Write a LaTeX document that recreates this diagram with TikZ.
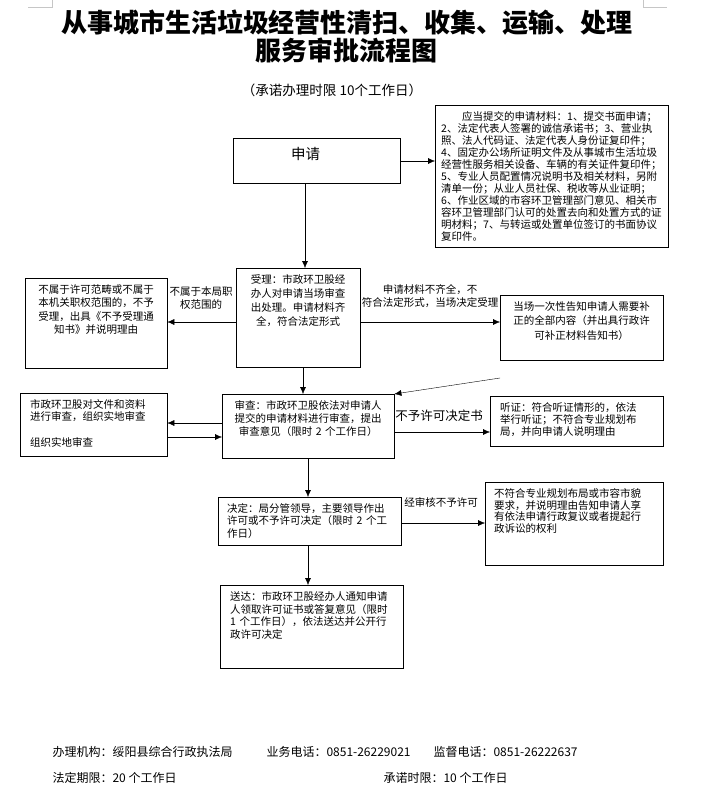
\documentclass[tikz,border=0pt]{standalone}
\usepackage{fontspec}
\setmainfont{Noto Sans CJK SC}
\usetikzlibrary{arrows.meta, positioning}
\newcommand{\fs}[2]{\fontsize{#1}{#2}\selectfont}

\begin{document}
\begin{tikzpicture}[x=1pt, y=-1pt,
    every node/.style={font=\fs{10.5}{12.5}},
    flowbox/.style={draw, anchor=north west, inner xsep=4pt, inner ysep=6pt, text height=9pt},
    arr/.style={-{Latex[length=7pt, width=6pt]}},
    lbl/.style={align=center, inner sep=0pt}]
    \useasboundingbox (0,0) rectangle (701,804);
    % page corner marks
    \draw[gray!45] (28,7) -- (52,7) -- (52,0);
    \draw[gray!45] (643,0) -- (643,7) -- (667,7);

    \node[align=center, font=\fs{26}{28}\bfseries] (title) at (347,36) {从事城市生活垃圾经营性清扫、收集、运输、处理\\服务审批流程图};
    \node[font=\fs{13.5}{15}] (limit) at (332,90) {（承诺办理时限 10个工作日）};

    \node[flowbox, align=center, text width=159pt, text height=15pt, text depth=18pt, font=\fs{14.5}{16}] (shenqing) at (233,138) {\hspace*{-22pt}申请};
    \node[flowbox, align=left, inner xsep=6pt, text width=221pt, text depth=121pt, font=\fs{10.5}{12}] (cailiao) at (435,105) {\hspace*{21pt}应当提交的申请材料：1、提交书面申请；\\2、法定代表人签署的诚信承诺书；3、营业执\\照、法人代码证、法定代表人身份证复印件；\\4、固定办公场所证明文件及从事城市生活垃圾\\经营性服务相关设备、车辆的有关证件复印件；\\5、专业人员配置情况说明书及相关材料，另附\\清单一份；从业人员社保、税收等从业证明；\\6、作业区域的市容环卫管理部门意见、相关市\\容环卫管理部门认可的处置去向和处置方式的证\\明材料；7、与转运或处置单位签订的书面协议\\复印件。};
    \node[flowbox, align=center, text width=116pt, text depth=78pt, font=\fs{10.5}{14}] (shouli) at (236,268) {受理：市政环卫股经\\办人对申请当场审查\\出处理。申请材料齐\\全，符合法定形式};
    \node[flowbox, align=center, text width=134pt, text depth=69pt, font=\fs{10.5}{13.5}] (buyu) at (25,278) {不属于许可范畴或不属于\\本机关职权范围的，不予\\受理，出具《不予受理通\\知书》并说明理由};
    \node[flowbox, align=center, text width=155pt, text depth=44pt, font=\fs{10.5}{14.5}] (buzhi) at (500,295) {当场一次性告知申请人需要补\\正的全部内容（并出具行政许\\可补正材料告知书）};
    \node[flowbox, align=center, text width=164pt, text depth=43pt, font=\fs{10.5}{13}] (shencha) at (222,394) {审查：市政环卫股依法对申请人\\提交的申请材料进行审查，提出\\审查意见（限时 2 个工作日）};
    \node[flowbox, align=left, inner xsep=10pt, text width=127pt, text depth=42pt] (shidi) at (20,393) {市政环卫股对文件和资料\\进行审查，组织实地审查\\[13pt]组织实地审查};
    \node[flowbox, align=left, inner xsep=10pt, text width=153pt, text depth=29pt, font=\fs{10.5}{12}] (tingzheng) at (490,396) {听证：符合听证情形的，依法\\举行听证；不符合专业规划布\\局，并向申请人说明理由};
    \node[flowbox, align=left, inner xsep=9pt, text width=165pt, text depth=27pt] (jueding) at (218,497) {决定：局分管领导，主要领导作出\\许可或不予许可决定（限时 2 个工\\作日）};
    \node[flowbox, align=left, inner xsep=9pt, text width=160pt, text depth=62pt, font=\fs{10.5}{11.8}] (bufuhe) at (485,482) {不符合专业规划布局或市容市貌\\要求，并说明理由告知申请人享\\有依法申请行政复议或者提起行\\政诉讼的权利};
    \node[flowbox, align=left, inner xsep=10pt, text width=163pt, text depth=62pt, font=\fs{10.5}{12.8}] (songda) at (220,585) {送达：市政环卫股经办人通知申请\\人领取许可证书或答复意见（限时\\1 个工作日），依法送达并公开行\\政许可决定};

    \node[lbl, font=\fs{10.5}{13}] (fanwei) at (201,298) {不属于本局职\\权范围的};
    \node[lbl, font=\fs{10.5}{12.5}] (buqi) at (430,296) {申请材料不齐全，不\\符合法定形式，当场决定受理};
    \node[lbl, font=\fs{12.5}{14}] (buyuxuke) at (439,416) {不予许可决定书};
    \node[lbl] (jingshenhe) at (441,502) {经审核不予许可};
    \coordinate (buzhiout) at (500,378);

    \draw[arr] (shenqing.east |- 0,161) -- (cailiao.west |- 0,161);
    \draw[arr] (shenqing.south -| 305,0) -- (shouli.north -| 305,0);
    \draw[arr] (shouli.west |- 0,322) -- (buyu.east |- 0,322);
    \draw[arr] (shouli.east |- 0,322) -- (buzhi.west |- 0,322);
    \draw[arr] (shouli.south -| 303,0) -- (shencha.north -| 303,0);
    \draw[arr] (buzhiout) -- (shencha.north east);
    \draw[arr] (shencha.west |- 0,423) -- (shidi.east |- 0,423);
    \draw[arr] (shidi.east |- 0,437) -- (shencha.west |- 0,437);
    \draw[arr] (shencha.east |- 0,432) -- (tingzheng.west |- 0,432);
    \draw[arr] (shencha.south -| 308,0) -- (jueding.north -| 308,0);
    \draw[arr] (jueding.east |- 0,523) -- (bufuhe.west |- 0,523);
    \draw[arr] (jueding.south -| 308,0) -- (songda.north -| 308,0);

    \node[anchor=west, font=\fs{12}{14}] (jigou) at (49,752) {办理机构：绥阳县综合行政执法局};
    \node[anchor=west, font=\fs{12}{14}] (yewu) at (263,752) {业务电话：0851-26229021};
    \node[anchor=west, font=\fs{12}{14}] (jiandu) at (430,752) {监督电话：0851-26222637};
    \node[anchor=west, font=\fs{12}{14}] (fading) at (49,778) {法定期限：20 个工作日};
    \node[anchor=west, font=\fs{12}{14}] (chengnuo) at (380,778) {承诺时限：10 个工作日};
\end{tikzpicture}
\end{document}
